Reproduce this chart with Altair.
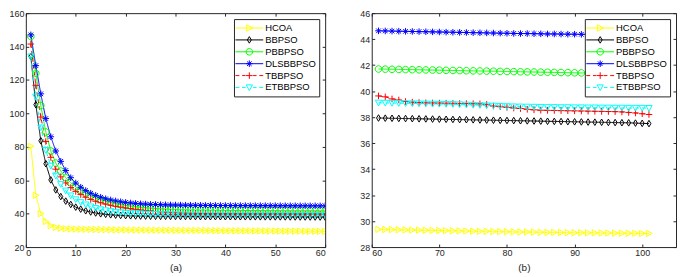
import altair as alt
import pandas as pd

# ---------------- data ----------------
iterations = list(range(1, 102))
series_names = ["HCOA", "BBPSO", "PBBPSO", "DLSBBPSO", "TBBPSO", "ETBBPSO"]

hcoa = [80.3, 51.0, 40.0, 35.3, 32.8, 31.8, 31.3, 31.0, 30.85, 30.75,
        30.65, 30.6, 30.55, 30.5, 30.45, 30.4, 30.35, 30.3, 30.28, 30.25,
        30.22, 30.2, 30.17, 30.15, 30.12, 30.1, 30.08, 30.05, 30.03, 30.0,
        29.98, 29.96, 29.94, 29.92, 29.9, 29.88, 29.86, 29.84, 29.82, 29.8,
        29.78, 29.76, 29.74, 29.72, 29.7, 29.68, 29.66, 29.64, 29.62, 29.6,
        29.58, 29.56, 29.54, 29.52, 29.5, 29.48, 29.46, 29.44, 29.42, 29.4,
        29.36, 29.35, 29.34, 29.33, 29.32, 29.31, 29.3, 29.29, 29.28, 29.27,
        29.26, 29.25, 29.24, 29.23, 29.22, 29.21, 29.21, 29.2, 29.19, 29.18,
        29.17, 29.16, 29.16, 29.15, 29.14, 29.13, 29.13, 29.12, 29.11, 29.1,
        29.1, 29.09, 29.09, 29.08, 29.08, 29.07, 29.07, 29.06, 29.06, 29.05, 29.05]

bbpso = [134.0, 105.2, 83.6, 69.9, 60.2, 54.2, 50.2, 47.5, 45.5, 43.9,
         42.7, 41.7, 41.0, 40.4, 39.9, 39.6, 39.3, 39.1, 38.9, 38.8,
         38.7, 38.6, 38.55, 38.5, 38.45, 38.4, 38.38, 38.36, 38.34, 38.32,
         38.3, 38.28, 38.26, 38.24, 38.22, 38.2, 38.19, 38.18, 38.17, 38.16,
         38.15, 38.14, 38.13, 38.12, 38.11, 38.1, 38.09, 38.08, 38.07, 38.06,
         38.05, 38.04, 38.03, 38.02, 38.01, 38.0, 37.99, 37.98, 37.97, 37.96,
         37.93, 37.92, 37.91, 37.9, 37.89, 37.88, 37.87, 37.86, 37.85, 37.84,
         37.83, 37.82, 37.81, 37.8, 37.79, 37.78, 37.77, 37.76, 37.75, 37.74,
         37.73, 37.72, 37.71, 37.7, 37.69, 37.68, 37.67, 37.66, 37.65, 37.64,
         37.63, 37.62, 37.61, 37.6, 37.59, 37.58, 37.57, 37.56, 37.54, 37.52, 37.5]

pbbpso = [146.0, 124.0, 104.7, 88.9, 77.5, 70.3, 65.5, 61.5, 58.5, 56.0,
          54.0, 52.3, 50.8, 49.5, 48.4, 47.5, 46.7, 46.0, 45.4, 44.9,
          44.5, 44.1, 43.8, 43.5, 43.3, 43.1, 42.9, 42.75, 42.6, 42.5,
          42.4, 42.32, 42.25, 42.2, 42.15, 42.1, 42.07, 42.04, 42.01, 41.98,
          41.96, 41.94, 41.92, 41.9, 41.88, 41.86, 41.85, 41.84, 41.83, 41.82,
          41.81, 41.8, 41.79, 41.78, 41.77, 41.76, 41.75, 41.74, 41.73, 41.72,
          41.7, 41.69, 41.68, 41.67, 41.66, 41.65, 41.64, 41.63, 41.62, 41.61,
          41.6, 41.59, 41.58, 41.57, 41.56, 41.55, 41.54, 41.53, 41.52, 41.51,
          41.5, 41.49, 41.48, 41.47, 41.46, 41.45, 41.44, 41.43, 41.42, 41.41,
          41.4, 41.39, 41.38, 41.37, 41.36, 41.35, 41.34, 41.33, 41.32, 41.31, 41.3]

dlsbbpso = [147.0, 128.6, 111.7, 96.9, 86.0, 77.5, 71.3, 65.8, 61.5, 58.3,
            55.8, 53.8, 52.2, 50.9, 49.8, 48.9, 48.2, 47.6, 47.1, 46.7,
            46.4, 46.1, 45.9, 45.7, 45.55, 45.45, 45.35, 45.27, 45.2, 45.14,
            45.09, 45.05, 45.01, 44.98, 44.95, 44.93, 44.91, 44.89, 44.87, 44.85,
            44.83, 44.82, 44.81, 44.8, 44.79, 44.78, 44.77, 44.76, 44.75, 44.74,
            44.73, 44.72, 44.71, 44.7, 44.69, 44.68, 44.67, 44.66, 44.66, 44.65,
            44.64, 44.63, 44.62, 44.61, 44.6, 44.59, 44.58, 44.57, 44.56, 44.55,
            44.54, 44.53, 44.52, 44.51, 44.5, 44.49, 44.48, 44.47, 44.46, 44.45,
            44.44, 44.43, 44.43, 44.42, 44.41, 44.4, 44.4, 44.39, 44.38, 44.38,
            44.37, 44.37, 44.36, 44.36, 44.35, 44.35, 44.34, 44.34, 44.33, 44.33, 44.32]

tbbpso = [141.5, 116.8, 97.8, 83.2, 73.7, 66.6, 62.0, 58.4, 55.6, 53.3,
          51.4, 49.8, 48.5, 47.4, 46.5, 45.7, 45.0, 44.4, 43.9, 43.4,
          43.0, 42.6, 42.2, 41.9, 41.6, 41.3, 41.1, 40.9, 40.7, 40.55,
          40.42, 40.32, 40.24, 40.17, 40.11, 40.06, 40.02, 39.98, 39.95, 39.92,
          39.9, 39.88, 39.86, 39.84, 39.83, 39.82, 39.81, 39.8, 39.79, 39.78,
          39.77, 39.76, 39.75, 39.74, 39.73, 39.72, 39.71, 39.7, 39.69, 39.68,
          39.63, 39.56, 39.4, 39.32, 39.2, 39.15, 39.12, 39.1, 39.09, 39.08,
          39.07, 39.06, 39.05, 39.04, 39.03, 39.02, 38.98, 38.85, 38.8, 38.75,
          38.7, 38.66, 38.6, 38.56, 38.53, 38.52, 38.51, 38.5, 38.49, 38.48,
          38.47, 38.46, 38.45, 38.44, 38.43, 38.42, 38.4, 38.36, 38.32, 38.26, 38.2]

etbbpso = [134.0, 110.0, 91.5, 78.0, 68.6, 62.6, 57.6, 53.7, 50.8, 48.5,
           46.8, 45.4, 44.2, 43.3, 42.5, 41.9, 41.4, 41.0, 40.7, 40.45,
           40.25, 40.08, 39.95, 39.85, 39.76, 39.69, 39.63, 39.58, 39.54, 39.5,
           39.47, 39.44, 39.42, 39.4, 39.38, 39.36, 39.35, 39.34, 39.33, 39.32,
           39.31, 39.3, 39.29, 39.28, 39.27, 39.26, 39.25, 39.24, 39.23, 39.22,
           39.21, 39.2, 39.19, 39.18, 39.17, 39.16, 39.15, 39.14, 39.13, 39.12,
           39.1, 39.09, 39.08, 39.07, 39.06, 39.05, 39.04, 39.03, 39.02, 39.01,
           39.0, 38.99, 38.97, 38.95, 38.93, 38.91, 38.89, 38.87, 38.85, 38.83,
           38.81, 38.8, 38.79, 38.78, 38.77, 38.76, 38.76, 38.75, 38.75, 38.74,
           38.74, 38.73, 38.73, 38.72, 38.72, 38.71, 38.71, 38.7, 38.7, 38.7, 38.69]

all_values = [hcoa, bbpso, pbbpso, dlsbbpso, tbbpso, etbbpso]

xticks_a = [0, 10, 20, 30, 40, 50, 60]
yticks_a = [20, 40, 60, 80, 100, 120, 140, 160]
xticks_b = [60, 70, 80, 90, 100]
yticks_b = [28, 30, 32, 34, 36, 38, 40, 42, 44, 46]

# ---------------- styles ----------------
colors = ["#FFFF00", "#000000", "#00FF00", "#0000FF", "#FF0000", "#00FFFF"]
dashes = [[1, 0], [1, 0], [1, 0], [1, 0], [4, 3], [4, 3]]


def f(v):
    return f"{v:.4g}"


def marker_path(kind, k):
    if kind == "tri_right":
        return f"M{f(-0.8*k)},{f(-0.95*k)}L{f(0.95*k)},0L{f(-0.8*k)},{f(0.95*k)}Z"
    if kind == "diamond":
        return f"M0,{f(-1*k)}L{f(0.6*k)},0L0,{f(1*k)}L{f(-0.6*k)},0Z"
    if kind == "circle":
        r = f(k)
        return f"M{r},0A{r},{r},0,1,1,{f(-k)},0A{r},{r},0,1,1,{r},0Z"
    if kind == "asterisk":
        d = 0.7 * k
        return (f"M{f(-k)},0L{f(k)},0M0,{f(-k)}L0,{f(k)}"
                f"M{f(-d)},{f(-d)}L{f(d)},{f(d)}M{f(-d)},{f(d)}L{f(d)},{f(-d)}")
    if kind == "plus":
        return f"M{f(-k)},0L{f(k)},0M0,{f(-k)}L0,{f(k)}"
    if kind == "tri_down":
        return f"M{f(-0.95*k)},{f(-0.8*k)}L{f(0.95*k)},{f(-0.8*k)}L0,{f(0.95*k)}Z"
    return ""


marker_kinds = ["tri_right", "diamond", "circle", "asterisk", "plus", "tri_down"]
marker_paths = [marker_path(k, 1.0) for k in marker_kinds]

# legend symbol: 11px box, line spans +-14px, marker ~6.6px
LEG_SIZE = 121
L = 14 / 5.5
solid_line = f"M{f(-L)},0L{f(L)},0"
dashed_line = (f"M{f(-L)},0L{f(-0.72*L)},0M{f(-0.52*L)},0L{f(-0.27*L)},0"
               f"M{f(0.27*L)},0L{f(0.52*L)},0M{f(0.72*L)},0L{f(L)},0")
legend_paths = []
for i, kind in enumerate(marker_kinds):
    ln = dashed_line if dashes[i][1] else solid_line
    legend_paths.append(ln + marker_path(kind, 0.6))

rows = []
for name, vals in zip(series_names, all_values):
    for it, v in zip(iterations, vals):
        rows.append({"iter": it, "value": v, "series": name})
df = pd.DataFrame(rows)

FONT = "Liberation Sans"
AX = "#262626"


def legend_def():
    return alt.Legend(title=None, orient="top-right", offset=6, labelFont=FONT,
                      labelFontSize=9.5, labelColor="#000000", strokeColor=AX,
                      fillColor="#FFFFFF", padding=3, rowPadding=-2, symbolSize=LEG_SIZE,
                      symbolOffset=6.5, labelOffset=10, symbolStrokeWidth=1)


def panel(data, xdom, xticks, ydom, yticks, title, width):
    xs = alt.Scale(domain=xdom, nice=False, zero=False)
    ys = alt.Scale(domain=ydom, nice=False, zero=False)
    color_sc = alt.Scale(domain=series_names, range=colors)
    common_ax = dict(domain=False, grid=False, tickSize=3, offset=-3,
                     tickColor=AX, labelColor=AX, labelFont=FONT, labelFontSize=9)
    x_bottom = alt.X("iter:Q", scale=xs, axis=alt.Axis(values=xticks, title=title, labelPadding=2,
                                                      titleFont=FONT, titleFontSize=10,
                                                      titleFontWeight="normal", titleColor=AX,
                                                      titlePadding=5, **common_ax))
    y_left = alt.Y("value:Q", scale=ys, axis=alt.Axis(values=yticks, title=None, labelPadding=2,
                                                     **common_ax))
    x_top = alt.X("iter:Q", scale=xs, axis=alt.Axis(values=xticks, orient="top", labels=False,
                                                   title=None, **common_ax))
    y_right = alt.Y("value:Q", scale=ys, axis=alt.Axis(values=yticks, orient="right", labels=False,
                                                      title=None, **common_ax))
    base = alt.Chart(data)
    lines = base.mark_line(strokeWidth=1, clip=True).encode(
        x=x_bottom, y=y_left,
        color=alt.Color("series:N", scale=color_sc, legend=None),
        strokeDash=alt.StrokeDash("series:N", scale=alt.Scale(domain=series_names, range=dashes),
                                  legend=None),
    )
    points = base.mark_point(filled=False, size=44, strokeWidth=1, clip=True, opacity=1).encode(
        x=x_top, y=y_right,
        color=alt.Color("series:N", scale=color_sc, legend=None),
        shape=alt.Shape("series:N", scale=alt.Scale(domain=series_names, range=marker_paths),
                        legend=None),
    )
    leg = base.transform_filter("datum.iter < 0").mark_point(filled=False, size=LEG_SIZE,
                                                              strokeWidth=1, opacity=1).encode(
        x=alt.X("iter:Q", scale=xs, axis=None),
        y=alt.Y("value:Q", scale=ys, axis=None),
        color=alt.Color("series:N", scale=color_sc, legend=legend_def()),
        shape=alt.Shape("series:N", scale=alt.Scale(domain=series_names, range=legend_paths),
                        legend=legend_def()),
    )
    return alt.layer(lines, points, leg).resolve_axis(x="independent", y="independent").resolve_scale(
        color="independent", shape="independent").properties(width=width, height=236)


df_a = df[df["iter"] <= 60]
df_b = df[df["iter"] >= 61]

pa = panel(df_a, [0, 60], xticks_a, [20, 160], yticks_a, "(a)", 302)
pb = panel(df_b, [60, 105], xticks_b, [28, 46], yticks_b, "(b)", 307)

chart = alt.hconcat(pa, pb, spacing=33).properties(
    padding={"left": 0, "top": -1, "right": 0, "bottom": 0},
    background="#FFFFFF",
).configure_view(stroke=AX, strokeWidth=1)

chart.save("out.html", embed_options={"renderer": "svg", "actions": False})
